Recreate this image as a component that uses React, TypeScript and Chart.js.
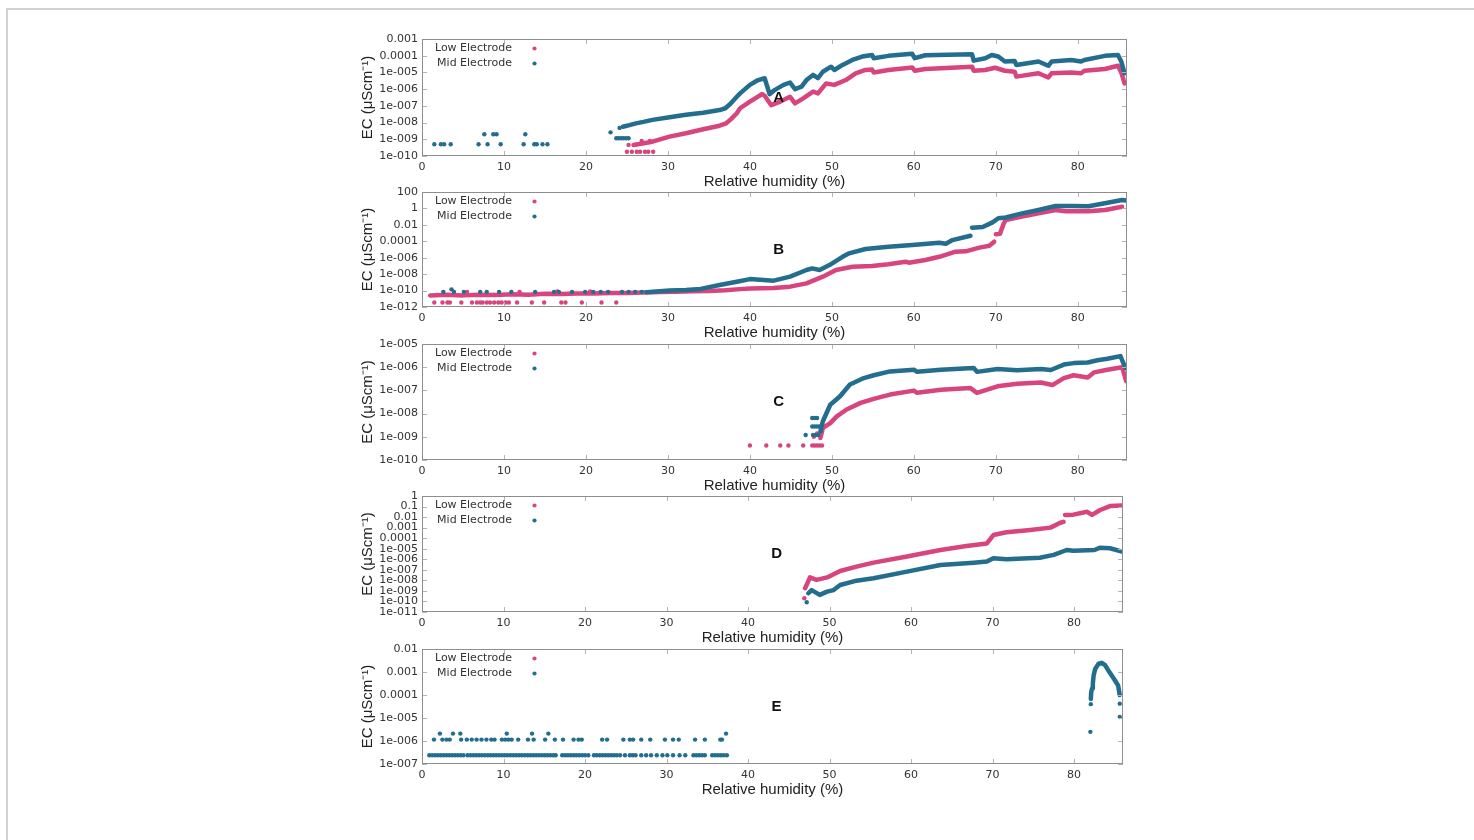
import React, { useEffect, useRef } from "react";
import { Chart, registerables } from "chart.js";
Chart.register(...registerables);

const PINK = "#d8457e";
const BLUE = "#236d8e";

const X_TICKS = [0, 10, 20, 30, 40, 50, 60, 70, 80];
const X_MAX = 86;

// ---------- Panel A ----------
const A_yTicks = [1e-10, 1e-9, 1e-8, 1e-7, 1e-6, 1e-5, 1e-4, 1e-3];
const A_yLabels = ["1e-010", "1e-009", "1e-008", "1e-007", "1e-006", "1e-005", "0.0001", "0.001"];
const A_midLine: [number, number | null][] = [
  [24.5, 5.6e-9], [25.3, 7e-9], [26.1, 9e-9], [27.0, 1.1e-8], [28.1, 1.45e-8], [30.2, 2.1e-8],
  [32.2, 2.9e-8], [34.3, 3.9e-8], [36.3, 5.6e-8], [37.0, 7.2e-8], [37.6, 1.3e-7], [38.4, 3.5e-7],
  [38.8, 5.6e-7], [40.0, 1.8e-6], [41.0, 3.5e-6], [41.8, 4.5e-6], [42.4, 5e-7], [42.9, 8.1e-7],
  [44.1, 1.8e-6], [44.9, 2.5e-6], [45.5, 1e-6], [46.3, 1.4e-6], [46.9, 3.5e-6], [47.7, 7.1e-6],
  [48.3, 4.5e-6], [48.9, 1.1e-5], [49.9, 2.2e-5], [50.3, 1.4e-5], [51.3, 2.8e-5], [52.5, 5.6e-5],
  [53.7, 8.9e-5], [54.9, 1.1e-4], [55.1, 7.1e-5], [56.9, 9.8e-5], [59.8, 1.3e-4], [60.1, 7.1e-5],
  [61.4, 1.07e-4], [67.1, 1.23e-4], [67.3, 5.1e-5], [68.7, 7.1e-5], [69.5, 1.1e-4], [70.3, 9e-5],
  [71.1, 4.5e-5], [72.3, 4.8e-5], [72.5, 2.8e-5], [75.2, 4.5e-5], [76.4, 2.5e-5], [76.8, 4.5e-5],
  [79.2, 5.6e-5], [80.4, 4.5e-5], [80.8, 5.6e-5], [83.3, 9.8e-5], [84.9, 1.1e-4], [85.3, 4.5e-5],
  [85.7, 8.9e-6],
];
const A_midDots: [number, number][] = [
  [1.5, 5e-10], [2.3, 5e-10], [2.7, 5e-10], [3.5, 5e-10], [6.9, 5e-10], [7.6, 2e-9], [8.0, 5e-10],
  [8.7, 2e-9], [9.1, 2e-9], [9.6, 5e-10], [12.4, 5e-10], [12.6, 2e-9], [13.7, 5e-10], [14.0, 5e-10],
  [14.7, 5e-10], [15.3, 5e-10], [23.0, 2.6e-9], [24.1, 4.8e-9], [23.7, 1.15e-9], [24.0, 1.15e-9],
  [24.3, 1.15e-9], [24.6, 1.15e-9], [24.9, 1.15e-9], [25.2, 1.15e-9],
];
const A_lowLine: [number, number | null][] = [
  [25.8, 4.6e-10], [26.5, 5.2e-10], [28.1, 7.2e-10], [30.2, 1.45e-9], [32.2, 2.3e-9], [34.3, 4e-9],
  [36.3, 6.5e-9], [37.1, 9e-9], [37.7, 1.6e-8], [38.4, 3.6e-8], [38.8, 7.2e-8], [40.0, 1.8e-7],
  [41.5, 5.1e-7], [41.8, 4e-7], [42.6, 1.1e-7], [43.7, 1.8e-7], [44.9, 3.5e-7], [45.5, 1.4e-7],
  [46.5, 2.8e-7], [47.7, 7.1e-7], [48.3, 5.6e-7], [49.3, 2.2e-6], [50.3, 1.8e-6], [51.7, 3.5e-6],
  [52.9, 8.9e-6], [54.1, 1.4e-5], [54.9, 1.5e-5], [55.1, 1e-5], [56.9, 1.4e-5], [59.8, 2e-5],
  [60.1, 1.26e-5], [61.4, 1.6e-5], [67.1, 2.2e-5], [67.3, 1.26e-5], [68.7, 1.4e-5], [69.9, 1.9e-5],
  [71.1, 1.26e-5], [72.3, 1.1e-5], [72.5, 5.6e-6], [75.2, 8.9e-6], [76.4, 5e-6], [76.8, 8.9e-6],
  [79.2, 1e-5], [80.4, 8.9e-6], [80.8, 1.26e-5], [83.3, 1.6e-5], [84.9, 2.5e-5], [85.3, 1e-5],
  [85.7, 2.2e-6],
];
const A_lowDots: [number, number][] = [
  [25.0, 1.8e-10], [25.6, 1.8e-10], [26.2, 1.8e-10], [26.6, 1.8e-10], [27.2, 1.8e-10], [27.6, 1.8e-10],
  [28.2, 1.8e-10], [25.2, 4.6e-10], [26.0, 4.6e-10], [26.8, 7.9e-10], [27.8, 7.9e-10],
];

// ---------- Panel B ----------
const B_yTicks = [1e-12, 1e-10, 1e-8, 1e-6, 1e-4, 1e-2, 1, 100];
const B_yLabels = ["1e-012", "1e-010", "1e-008", "1e-006", "0.0001", "0.01", "1", "100"];
const B_midLine: [number, number | null][] = [
  [27.4, 6.3e-11], [30.2, 1e-10], [32.2, 1.15e-10], [34.0, 1.6e-10], [36.3, 4.7e-10], [38.4, 1.2e-9],
  [40.0, 2.5e-9], [42.9, 1.6e-9], [44.9, 5e-9], [46.9, 3.2e-8], [47.6, 5e-8], [48.5, 3.2e-8],
  [49.7, 1.26e-7], [51.3, 1.3e-6], [52.1, 3.4e-6], [54.1, 1.15e-5], [56.9, 2.2e-5], [59.8, 3.5e-5],
  [63.1, 6.8e-5], [63.9, 5e-5], [64.7, 1.4e-4], [66.9, 4.8e-4], [67.0, null], [67.1, 4.5e-3],
  [68.4, 5.4e-3], [69.6, 2e-2], [70.3, 6.3e-2], [71.2, 7.9e-2], [73.2, 0.25], [75.2, 0.65],
  [77.3, 1.95], [79.3, 1.95], [81.3, 1.8], [83.3, 4.2], [85.4, 10.7], [85.9, 9],
];
const B_midDots: [number, number][] = [
  [2.6, 7e-11], [3.6, 1.4e-10], [3.9, 7e-11], [5.1, 7e-11], [7.1, 7e-11], [7.9, 7e-11], [9.4, 7e-11],
  [10.9, 7e-11], [13.8, 7e-11], [16.1, 7e-11], [16.7, 7e-11], [18.3, 7e-11], [19.9, 7e-11],
  [20.9, 7e-11], [21.8, 7e-11], [22.7, 7e-11], [24.4, 7e-11], [25.2, 7e-11], [26.0, 7e-11], [26.8, 7e-11],
];
const B_lowLine: [number, number | null][] = [
  [1.0, 2.5e-11], [3, 3e-11], [5, 2.6e-11], [7, 3.2e-11], [9, 2.8e-11], [11, 3.5e-11], [13, 3.2e-11],
  [15, 4e-11], [17, 3.8e-11], [19, 4.5e-11], [21, 4.3e-11], [23, 5e-11], [25, 5e-11], [27, 6e-11],
  [29, 6.5e-11], [31, 7e-11], [33, 8e-11], [35, 9e-11], [37, 1.1e-10], [38.8, 1.5e-10], [40.0, 1.8e-10],
  [42.9, 2e-10], [44.9, 3e-10], [46.9, 7.6e-10], [48.9, 4.9e-9], [50.5, 3.2e-8], [52.5, 7.9e-8],
  [54.9, 1e-7], [56.9, 1.6e-7], [59.0, 3.2e-7], [59.4, 2.5e-7], [61.4, 5.2e-7], [63.1, 1.3e-6],
  [65.1, 5.4e-6], [66.3, 6e-6], [68.0, 1.7e-5], [69.2, 2.9e-5], [69.8, 8.9e-5], [69.9, null],
  [70.0, 7e-4], [70.5, 8e-4], [70.9, 1e-2], [71.2, 3.9e-2], [73.2, 0.1], [75.2, 0.25], [77.3, 0.65],
  [78.5, 0.45], [81.3, 0.45], [83.3, 0.65], [85.4, 1.6],
];
const B_lowDots: [number, number][] = [
  [1.5, 3.6e-12], [2.5, 3.6e-12], [3.1, 3.6e-12], [3.4, 3.6e-12], [4.8, 3.6e-12], [6.1, 3.6e-12],
  [6.7, 3.6e-12], [7.1, 3.6e-12], [7.4, 3.6e-12], [7.9, 3.6e-12], [8.3, 3.6e-12], [8.8, 3.6e-12],
  [9.3, 3.6e-12], [9.7, 3.6e-12], [10.2, 3.6e-12], [10.6, 3.6e-12], [11.6, 3.6e-12], [13.4, 3.6e-12],
  [14.9, 3.6e-12], [17.0, 3.6e-12], [17.5, 3.6e-12], [19.5, 3.6e-12], [21.9, 3.6e-12], [23.7, 3.6e-12],
  [5.5, 7e-11], [11.9, 7e-11], [16.5, 8e-11], [20.5, 8e-11],
];

// ---------- Panel C ----------
const C_yTicks = [1e-10, 1e-9, 1e-8, 1e-7, 1e-6, 1e-5];
const C_yLabels = ["1e-010", "1e-009", "1e-008", "1e-007", "1e-006", "1e-005"];
const C_midLine: [number, number | null][] = [
  [48.6, 1.7e-9], [48.9, 4.7e-9], [49.8, 2.4e-8], [51.0, 5.6e-8], [52.2, 1.8e-7], [53.9, 3.4e-7],
  [55.1, 4.5e-7], [57.1, 6.6e-7], [60.0, 7.8e-7], [60.4, 6.3e-7], [63.3, 7.8e-7], [67.3, 9.3e-7],
  [67.7, 6.3e-7], [70.2, 8.3e-7], [72.6, 7.4e-7], [75.5, 8.3e-7], [76.7, 7.6e-7], [78.3, 1.3e-6],
  [79.5, 1.5e-6], [81.2, 1.6e-6], [82.4, 2e-6], [83.6, 2.3e-6], [85.2, 3e-6], [85.8, 9.3e-7],
];
const C_midDots: [number, number][] = [
  [46.8, 1.2e-9], [47.6, 6.5e-9], [47.9, 6.5e-9], [48.2, 6.5e-9], [47.6, 2.8e-9], [47.9, 2.8e-9],
  [48.2, 2.8e-9], [48.5, 2.8e-9], [47.7, 1.2e-9], [48.0, 1.2e-9], [48.3, 1.2e-9],
];
const C_lowLine: [number, number | null][] = [
  [48.6, 8.9e-10], [48.9, 2.4e-9], [49.8, 3.9e-9], [50.6, 7.6e-9], [51.8, 1.5e-8], [53.5, 2.9e-8],
  [55.1, 4.3e-8], [57.1, 6.6e-8], [60.0, 9.8e-8], [60.4, 7.9e-8], [63.3, 1.07e-7], [66.9, 1.26e-7],
  [67.7, 7.8e-8], [70.2, 1.5e-7], [72.6, 1.95e-7], [75.5, 2.2e-7], [76.9, 1.7e-7], [78.3, 3.4e-7],
  [79.5, 4.5e-7], [81.2, 3.6e-7], [82.0, 6e-7], [83.6, 7.8e-7], [85.4, 1e-6], [85.9, 2.5e-7],
];
const C_lowDots: [number, number][] = [
  [40.0, 4.2e-10], [42.0, 4.2e-10], [43.7, 4.2e-10], [44.7, 4.2e-10], [46.5, 4.2e-10], [47.6, 4.2e-10],
  [47.9, 4.2e-10], [48.2, 4.2e-10], [48.5, 4.2e-10], [48.8, 4.2e-10], [47.8, 1e-9], [48.2, 1.4e-9],
];

// ---------- Panel D ----------
const D_yTicks = [1e-11, 1e-10, 1e-9, 1e-8, 1e-7, 1e-6, 1e-5, 1e-4, 1e-3, 1e-2, 1e-1, 1];
const D_yLabels = ["1e-011", "1e-010", "1e-009", "1e-008", "1e-007", "1e-006", "1e-005", "0.0001", "0.001", "0.01", "0.1", "1"];
const D_lowLine: [number, number | null][] = [
  [47.0, 1.8e-9], [47.6, 1.9e-8], [48.4, 1.1e-8], [49.7, 1.9e-8], [51.3, 7.8e-8], [53.3, 2e-7],
  [55.4, 4.8e-7], [59.5, 1.8e-6], [63.6, 7.6e-6], [66.8, 1.8e-5], [69.3, 3.2e-5], [70.1, 2e-4],
  [71.7, 3.6e-4], [74.6, 6e-4], [77.1, 1e-3], [78.3, 2.9e-3], [78.7, 3.5e-3], [78.8, null],
  [78.9, 1.6e-2], [79.9, 1.7e-2], [81.6, 3.2e-2], [82.2, 1.6e-2], [83.2, 4.7e-2], [84.4, 0.11],
  [85.9, 0.126],
];
const D_lowDots: [number, number][] = [[46.9, 2e-10]];
const D_midLine: [number, number | null][] = [
  [47.4, 6e-10], [47.8, 1.2e-9], [48.8, 4.2e-10], [49.7, 8.5e-10], [50.5, 1.2e-9], [51.3, 3.6e-9],
  [53.3, 9.3e-9], [55.4, 1.6e-8], [59.5, 6.8e-8], [63.6, 2.9e-7], [67.7, 4.8e-7], [69.3, 6e-7],
  [70.1, 1.26e-6], [71.7, 1e-6], [75.8, 1.4e-6], [77.5, 2.6e-6], [79.1, 7.6e-6], [79.9, 6.5e-6],
  [82.5, 7.6e-6], [83.2, 1.26e-5], [84.4, 1.1e-5], [86.0, 5.2e-6],
];
const D_midDots: [number, number][] = [[47.2, 8.3e-11]];

// ---------- Panel E ----------
const E_yTicks = [1e-7, 1e-6, 1e-5, 1e-4, 1e-3, 1e-2];
const E_yLabels = ["1e-007", "1e-006", "1e-005", "0.0001", "0.001", "0.01"];
const E_midLine: [number, number | null][] = [
  [82.05, 6.7e-5], [82.1, 1.3e-4], [82.2, 1.9e-4], [82.3, 3.2e-4], [82.4, 7.2e-4], [82.6, 1.4e-3],
  [83.0, 2.3e-3], [83.4, 2.5e-3], [83.8, 2e-3], [84.2, 1.17e-3], [84.6, 7.2e-4], [85.0, 4.4e-4],
  [85.4, 2.6e-4], [85.6, 1e-4],
];
const E_midDots: [number, number][] = [
  [0.9, 2.4e-7], [1.25, 2.4e-7], [1.6, 2.4e-7], [1.95, 2.4e-7], [2.3, 2.4e-7], [2.65, 2.4e-7],
  [3.0, 2.4e-7], [3.35, 2.4e-7], [3.7, 2.4e-7], [4.05, 2.4e-7], [4.4, 2.4e-7], [4.75, 2.4e-7],
  [5.1, 2.4e-7], [5.6, 2.4e-7], [5.95, 2.4e-7], [6.3, 2.4e-7], [6.65, 2.4e-7], [7.0, 2.4e-7],
  [7.35, 2.4e-7], [7.7, 2.4e-7], [8.05, 2.4e-7], [8.4, 2.4e-7], [8.75, 2.4e-7], [9.1, 2.4e-7],
  [9.45, 2.4e-7], [9.8, 2.4e-7], [10.15, 2.4e-7], [10.5, 2.4e-7], [10.85, 2.4e-7], [11.2, 2.4e-7],
  [11.55, 2.4e-7], [11.9, 2.4e-7], [12.25, 2.4e-7], [12.6, 2.4e-7], [12.95, 2.4e-7], [13.3, 2.4e-7],
  [13.65, 2.4e-7], [14.0, 2.4e-7], [14.35, 2.4e-7], [14.7, 2.4e-7], [15.05, 2.4e-7], [15.4, 2.4e-7],
  [15.75, 2.4e-7], [16.1, 2.4e-7], [16.4, 2.4e-7], [17.2, 2.4e-7], [17.55, 2.4e-7], [17.9, 2.4e-7],
  [18.25, 2.4e-7], [18.6, 2.4e-7], [18.95, 2.4e-7], [19.3, 2.4e-7], [19.65, 2.4e-7], [20.0, 2.4e-7],
  [20.4, 2.4e-7], [21.1, 2.4e-7], [21.45, 2.4e-7], [21.8, 2.4e-7], [22.15, 2.4e-7], [22.5, 2.4e-7],
  [22.85, 2.4e-7], [23.2, 2.4e-7], [23.55, 2.4e-7], [23.9, 2.4e-7], [24.3, 2.4e-7], [24.9, 2.4e-7],
  [25.5, 2.4e-7], [25.85, 2.4e-7], [26.2, 2.4e-7], [26.9, 2.4e-7], [27.5, 2.4e-7], [28.1, 2.4e-7],
  [28.8, 2.4e-7], [29.5, 2.4e-7], [30.1, 2.4e-7], [30.8, 2.4e-7], [31.6, 2.4e-7], [32.3, 2.4e-7],
  [33.3, 2.4e-7], [33.65, 2.4e-7], [34.0, 2.4e-7], [34.35, 2.4e-7], [34.7, 2.4e-7], [35.6, 2.4e-7],
  [35.95, 2.4e-7], [36.3, 2.4e-7], [36.65, 2.4e-7], [37.0, 2.4e-7], [37.4, 2.4e-7],
  [1.47, 1.15e-6], [2.5, 1.15e-6], [3.0, 1.15e-6], [3.4, 1.15e-6], [4.8, 1.15e-6], [5.5, 1.15e-6],
  [6.1, 1.15e-6], [6.7, 1.15e-6], [7.3, 1.15e-6], [7.9, 1.15e-6], [8.5, 1.15e-6], [8.9, 1.15e-6],
  [9.8, 1.15e-6], [10.2, 1.15e-6], [10.6, 1.15e-6], [11.0, 1.15e-6], [11.8, 1.15e-6], [13.0, 1.15e-6],
  [13.7, 1.15e-6], [15.1, 1.15e-6], [16.3, 1.15e-6], [17.3, 1.15e-6], [18.6, 1.15e-6], [19.2, 1.15e-6],
  [19.6, 1.15e-6], [22.1, 1.15e-6], [22.7, 1.15e-6], [24.7, 1.15e-6], [25.5, 1.15e-6], [25.9, 1.15e-6],
  [26.9, 1.15e-6], [28.0, 1.15e-6], [29.8, 1.15e-6], [30.8, 1.15e-6], [31.5, 1.15e-6], [33.5, 1.15e-6],
  [34.7, 1.15e-6], [36.6, 1.15e-6], [36.8, 1.15e-6],
  [2.2, 2.1e-6], [3.8, 2.1e-6], [4.7, 2.1e-6], [10.4, 2.1e-6], [13.5, 2.1e-6], [15.5, 2.1e-6], [37.3, 2.1e-6],
  [82.0, 2.5e-6], [82.05, 4e-5], [85.6, 4.2e-5], [85.6, 1.1e-5],
];

type Series = { pts: [number, number | null][]; color: string; line: boolean };
type PanelCfg = {
  label: string; top: number; bottom: number; right: number;
  yTicks: number[]; yLabels: string[]; series: Series[];
};

const PANELS: PanelCfg[] = [
  { label: "A", top: 39, bottom: 156, right: 1127, yTicks: A_yTicks, yLabels: A_yLabels,
    series: [
      { pts: A_midLine, color: BLUE, line: true }, { pts: A_midDots, color: BLUE, line: false },
      { pts: A_lowLine, color: PINK, line: true }, { pts: A_lowDots, color: PINK, line: false },
    ] },
  { label: "B", top: 192, bottom: 307, right: 1127, yTicks: B_yTicks, yLabels: B_yLabels,
    series: [
      { pts: B_midLine, color: BLUE, line: true }, { pts: B_midDots, color: BLUE, line: false },
      { pts: B_lowLine, color: PINK, line: true }, { pts: B_lowDots, color: PINK, line: false },
    ] },
  { label: "C", top: 344, bottom: 460, right: 1127, yTicks: C_yTicks, yLabels: C_yLabels,
    series: [
      { pts: C_midLine, color: BLUE, line: true }, { pts: C_midDots, color: BLUE, line: false },
      { pts: C_lowLine, color: PINK, line: true }, { pts: C_lowDots, color: PINK, line: false },
    ] },
  { label: "D", top: 496, bottom: 612, right: 1123, yTicks: D_yTicks, yLabels: D_yLabels,
    series: [
      { pts: D_midLine, color: BLUE, line: true }, { pts: D_midDots, color: BLUE, line: false },
      { pts: D_lowLine, color: PINK, line: true }, { pts: D_lowDots, color: PINK, line: false },
    ] },
  { label: "E", top: 649, bottom: 764, right: 1123, yTicks: E_yTicks, yLabels: E_yLabels,
    series: [
      { pts: E_midLine, color: BLUE, line: true }, { pts: E_midDots, color: BLUE, line: false },
    ] },
];

const CANVAS_LEFT = 355;
const PAD_TOP = 6;
const PAD_RIGHT = 8;
const Y_AXIS_W = 67;
const X_AXIS_H = 35;
const TICK_FONT = { family: "'DejaVu Sans', sans-serif", size: 11 };
const TITLE_FONT = { family: "'Liberation Sans', Arial, sans-serif", size: 15 };

function Panel({ cfg }: { cfg: PanelCfg }) {
  const ref = useRef<HTMLCanvasElement>(null);
  const w = cfg.right + PAD_RIGHT - CANVAS_LEFT;
  const h = PAD_TOP + (cfg.bottom - cfg.top) + X_AXIS_H;

  useEffect(() => {
    const decor = {
      id: "decor",
      afterDraw(chart: any) {
        const { ctx, chartArea: a, scales } = chart;
        ctx.save();
        ctx.strokeStyle = "#b4b4b4";
        ctx.lineWidth = 1;
        ctx.beginPath();
        X_TICKS.forEach((v) => {
          const px = Math.round(scales.x.getPixelForValue(v)) + 0.5;
          ctx.moveTo(px, a.bottom); ctx.lineTo(px, a.bottom - 5);
          ctx.moveTo(px, a.top); ctx.lineTo(px, a.top + 5);
        });
        cfg.yTicks.forEach((v) => {
          const py = Math.round(scales.y.getPixelForValue(v)) + 0.5;
          ctx.moveTo(a.left, py); ctx.lineTo(a.left + 5, py);
          ctx.moveTo(a.right, py); ctx.lineTo(a.right - 5, py);
        });
        ctx.stroke();
        ctx.strokeStyle = "#8e8e8e";
        ctx.strokeRect(Math.round(a.left) + 0.5, Math.round(a.top) + 0.5,
          Math.round(a.right - a.left) - 1, Math.round(a.bottom - a.top) - 1);
        // legend
        ctx.font = "11px 'DejaVu Sans', sans-serif";
        ctx.fillStyle = "#333";
        ctx.textAlign = "right";
        ctx.textBaseline = "middle";
        ctx.fillText("Low Electrode", a.left + 90, a.top + 9.5);
        ctx.fillText("Mid Electrode", a.left + 90, a.top + 24.5);
        ctx.fillStyle = PINK;
        ctx.beginPath(); ctx.arc(a.left + 112.5, a.top + 9.5, 2.1, 0, Math.PI * 2); ctx.fill();
        ctx.fillStyle = BLUE;
        ctx.beginPath(); ctx.arc(a.left + 112.5, a.top + 24.5, 2.1, 0, Math.PI * 2); ctx.fill();
        // panel letter
        ctx.font = "bold 15px 'Liberation Sans', Arial, sans-serif";
        ctx.fillStyle = "#111";
        ctx.textAlign = "center";
        ctx.fillText(cfg.label, scales.x.getPixelForValue(43.5), (a.top + a.bottom) / 2);
        ctx.restore();
      },
    };

    const datasets = cfg.series.map((s) => ({
      data: s.pts.map(([x, y]) => ({ x, y })),
      showLine: s.line,
      spanGaps: false,
      borderColor: s.color,
      backgroundColor: s.color,
      borderWidth: s.line ? 4.5 : 0,
      borderJoinStyle: "round" as const,
      borderCapStyle: "round" as const,
      pointRadius: s.line ? 0 : 2.2,
      pointBorderWidth: 0,
      tension: 0,
    }));

    const chart = new Chart(ref.current as HTMLCanvasElement, {
      type: "scatter",
      data: { datasets },
      options: {
        responsive: false,
        animation: false,
        devicePixelRatio: 1,
        events: [],
        layout: { padding: { top: PAD_TOP, right: PAD_RIGHT, left: 0, bottom: 0 } },
        plugins: { legend: { display: false }, tooltip: { enabled: false } },
        scales: {
          x: {
            type: "linear",
            min: 0,
            max: X_MAX,
            afterBuildTicks: (s: any) => { s.ticks = X_TICKS.map((v) => ({ value: v })); },
            afterFit: (s: any) => { s.height = X_AXIS_H; s.paddingLeft = 0; s.paddingRight = 0; },
            ticks: { autoSkip: false, maxRotation: 0, padding: 5, color: "#333", font: TICK_FONT,
              callback: (v: any) => String(v) },
            grid: { display: false, drawTicks: false },
            border: { display: false },
            title: { display: true, text: "Relative humidity (%)", color: "#222", font: TITLE_FONT,
              padding: { top: 0, bottom: 0 } },
          },
          y: {
            type: "logarithmic",
            min: cfg.yTicks[0],
            max: cfg.yTicks[cfg.yTicks.length - 1],
            afterBuildTicks: (s: any) => { s.ticks = cfg.yTicks.map((v) => ({ value: v })); },
            afterFit: (s: any) => { s.width = Y_AXIS_W; s.paddingTop = 0; s.paddingBottom = 0; },
            ticks: { autoSkip: false, padding: 4, color: "#333", font: TICK_FONT,
              callback: (_v: any, i: number) => cfg.yLabels[i] },
            grid: { display: false, drawTicks: false },
            border: { display: false },
            title: { display: true, text: "EC (μScm⁻¹)", color: "#222", font: TITLE_FONT,
              padding: { top: 4, bottom: 0 } },
          },
        },
      },
      plugins: [decor],
    } as any);
    return () => chart.destroy();
  }, [cfg]);

  return (
    <canvas
      ref={ref}
      width={w}
      height={h}
      style={{ position: "absolute", left: CANVAS_LEFT, top: cfg.top - PAD_TOP, width: w, height: h, display: "block" }}
    />
  );
}

export default function App() {
  return (
    <div>
      <div
        style={{
          position: "fixed", left: 6, top: 8, right: 0, bottom: 0,
          borderTop: "2px solid #d2d2d2", borderLeft: "2px solid #d2d2d2",
        }}
      />
      {PANELS.map((p) => (
        <Panel key={p.label} cfg={p} />
      ))}
    </div>
  );
}
